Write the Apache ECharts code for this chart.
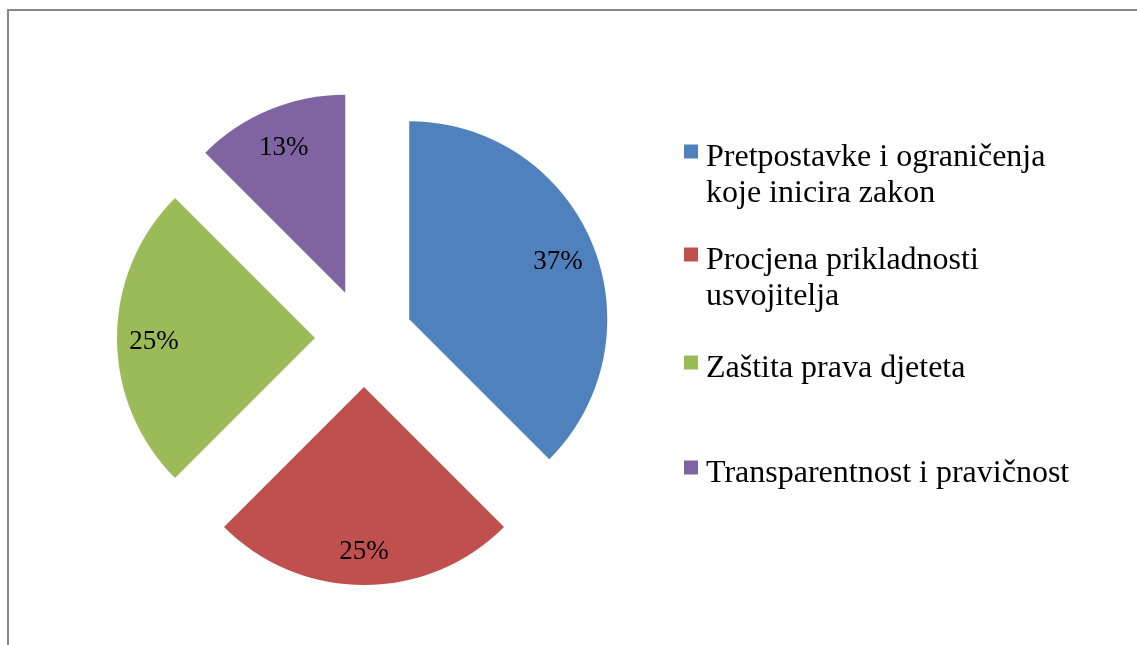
<!DOCTYPE html>
<html>
<head>
<meta charset="utf-8">
<script src="https://cdn.jsdelivr.net/npm/echarts@6/dist/echarts.min.js"></script>
<style>
html, body { margin: 0; padding: 0; background: #fff; overflow: hidden; }
#main { width: 1137px; height: 645px; }
.frame {
  position: absolute; left: 7px; top: 9px; width: 1200px; height: 700px;
  border-left: 2px solid #888; border-top: 2px solid #888; pointer-events: none;
}
</style>
</head>
<body>
<div id="main"></div>
<div class="frame"></div>
<script>
const categories = [
  'Pretpostavke i ograničenja koje inicira zakon',
  'Procjena prikladnosti usvojitelja',
  'Zaštita prava djeteta',
  'Transparentnost i pravičnost'
];
// slice shares as measured from the slice angles (3 : 2 : 2 : 1)
const values = [37.5, 25, 25, 12.5];
// percent labels exactly as printed on the slices
const percentLabels = ['37%', '25%', '25%', '13%'];
// legend text lines as they wrap in the original
const legendLines = [
  ['Pretpostavke i ograničenja', 'koje inicira zakon'],
  ['Procjena prikladnosti', 'usvojitelja'],
  ['Zaštita prava djeteta'],
  ['Transparentnost i pravičnost']
];
const colors = ['#4F81BD', '#C0504D', '#9BBB59', '#8064A2'];
const legendTops = [115, 218, 344, 449];

const font = 'Liberation Serif, Times New Roman, serif';
const myChart = echarts.init(document.getElementById('main'));

// a spacer line above the text so the square sits by the first line
const legendLabel = (lines) => {
  const spacer = lines.length > 1 ? '{s2| }' : '{s1| }';
  return [spacer].concat(lines.map(l => '{t|' + l + '}')).join('\n');
};

const option = {
  animation: false,
  legend: categories.map((name, i) => ({
    data: [name],
    orient: 'vertical',
    left: 684,
    top: legendTops[i],
    padding: 0,
    icon: 'rect',
    itemWidth: 14,
    itemHeight: 14,
    selectedMode: false,
    formatter: () => legendLabel(legendLines[i]),
    textStyle: {
      padding: [0, 0, 0, 3],
      rich: {
        t: { fontFamily: font, fontSize: 32, lineHeight: 36, color: '#000' },
        s1: { fontSize: 1, lineHeight: 12 },
        s2: { fontSize: 1, lineHeight: 48 }
      }
    }
  })),
  series: [
    {
      type: 'pie',
      center: [364, 338],
      radius: 198,
      startAngle: 90,
      selectedMode: 'multiple',
      selectedOffset: 49,
      silent: true,
      label: { show: false },
      labelLine: { show: false },
      data: categories.map((name, i) => ({
        name: name,
        value: values[i],
        selected: true,
        itemStyle: { color: colors[i] }
      }))
    },
    {
      // transparent ring used only to place the percent labels
      type: 'pie',
      center: [364, 338],
      radius: [118, 198],
      startAngle: 90,
      selectedMode: 'multiple',
      selectedOffset: 49,
      silent: true,
      itemStyle: { color: 'rgba(0,0,0,0)' },
      label: {
        show: true,
        position: 'inside',
        formatter: (p) => '{s| }\n{v|' + percentLabels[p.dataIndex] + '}',
        rich: {
          v: { fontFamily: font, fontSize: 27, lineHeight: 30, color: '#000' },
          s: { fontSize: 1, lineHeight: 8 }
        }
      },
      labelLine: { show: false },
      data: categories.map((name, i) => ({
        name: name,
        value: values[i],
        selected: true,
        itemStyle: { color: 'rgba(0,0,0,0)' }
      }))
    }
  ]
};
myChart.setOption(option);
</script>
</body>
</html>
